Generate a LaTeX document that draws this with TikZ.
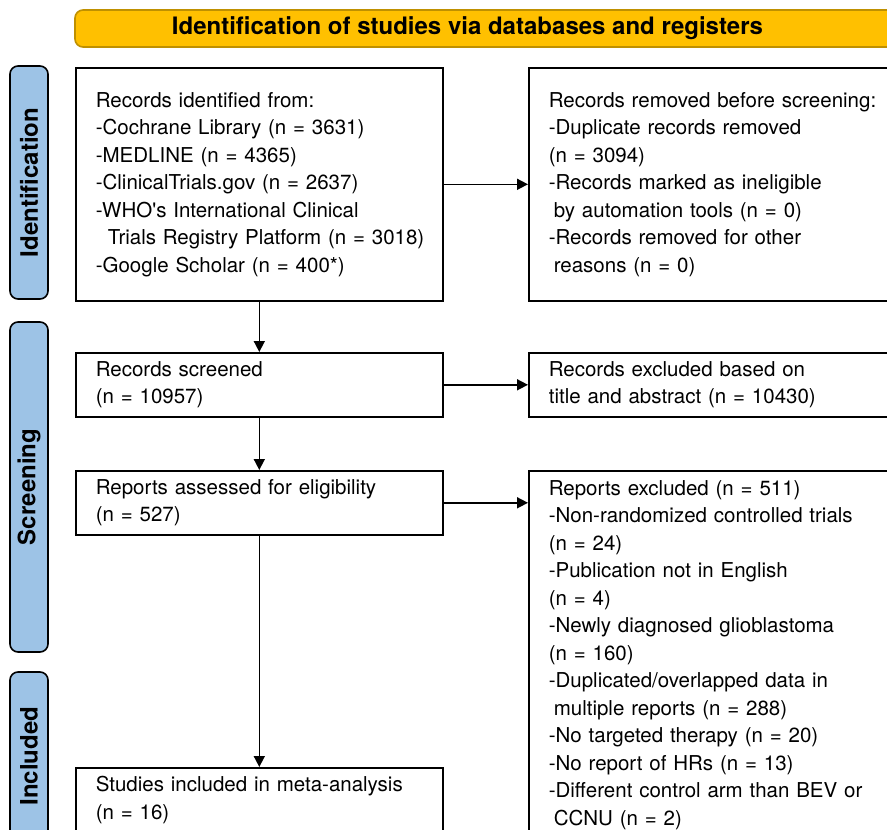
\documentclass[tikz,border=0pt]{standalone}
\usepackage{fontspec}
\setmainfont{TeX Gyre Heros}
\usetikzlibrary{arrows.meta}
\definecolor{headgold}{HTML}{FFC000}
\definecolor{headedge}{HTML}{BF9000}
\definecolor{sideblue}{HTML}{9DC3E6}
\tikzset{
  box/.style={draw,line width=1.6pt,anchor=north west,inner xsep=20pt,inner ysep=0pt,
    align=left,font=\fontsize{20.5}{27.5}\selectfont},
  sidebar/.style={draw,fill=sideblue,line width=1.6pt,rounded corners=8pt,rotate=90,
    minimum height=38pt,inner sep=0pt,font=\fontsize{24}{28}\selectfont\bfseries},
  arr/.style={-{Triangle[length=11pt,width=11pt]},line width=1.6pt}
}
\begin{document}
\begin{tikzpicture}[x=1pt,y=-1pt]
\useasboundingbox (0,0) rectangle (887,830);
\clip (0,0) rectangle (887,830);

% header
\draw[fill=headgold,draw=headedge,line width=1.6pt,rounded corners=8pt] (75,10) rectangle (910,47);
\node[font=\fontsize{24}{28}\selectfont\bfseries] (hdr) at (467.5,28.5) {Identification of studies via databases and registers};

% phase bars
\node[sidebar,minimum width=233pt] (barid) at (29,182.5) {Identification};
\node[sidebar,minimum width=330pt] (barscr) at (29,487) {Screening};
\node[sidebar,minimum width=168pt] (barinc) at (29,756) {Included};

% left column
\node[box,text width=327pt,minimum height=233pt] (ident) at (75,67)
  {Records identified from:\\
   -Cochrane Library (n = 3631)\\
   -MEDLINE (n = 4365)\\
   -ClinicalTrials.gov (n = 2637)\\
   -WHO\textquotesingle s International Clinical\\
   \mbox{\hspace*{12pt}Trials Registry Platform (n = 3018)}\\
   -Google Scholar (n = 400*)};
\node[box,text width=327pt,minimum height=64pt] (screened) at (75,352)
  {Records screened\\(n = 10957)};
\node[box,text width=327pt,minimum height=64pt] (assessed) at (75,470)
  {Reports assessed for eligibility\\(n = 527)};
\node[box,text width=327pt,minimum height=64pt] (included) at (75,767)
  {Studies included in meta-analysis\\(n = 16)};

% right column
\node[box,text width=360pt,minimum height=233pt] (removed) at (528,67)
  {Records removed before screening:\\
   -Duplicate records removed\\
   (n = 3094)\\
   -Records marked as ineligible\\
   \hspace*{5pt}by automation tools (n = 0)\\
   -Records removed for other\\
   \hspace*{5pt}reasons (n = 0)};
\node[box,text width=360pt,minimum height=64pt] (titleexcl) at (528,352)
  {Records excluded based on\\title and abstract (n = 10430)};
\node[box,text width=360pt,minimum height=368pt] (repexcl) at (528,470)
  {Reports excluded (n = 511)\\
   -Non-randomized controlled trials\\
   (n = 24)\\
   -Publication not in English\\
   (n = 4)\\
   -Newly diagnosed glioblastoma\\
   (n = 160)\\
   -Duplicated/overlapped data in\\
   \hspace*{5pt}multiple reports (n = 288)\\
   -No targeted therapy (n = 20)\\
   -No report of HRs (n = 13)\\
   -Different control arm than BEV or\\
   \hspace*{5pt}CCNU (n = 2)};

% arrows
\draw[arr] (ident.east) -- (removed.west);
\draw[arr] (ident.south) -- (screened.north);
\draw[arr] (screened.east) -- (titleexcl.west);
\draw[arr] (screened.south) -- (assessed.north);
\draw[arr] (assessed.east) -- (assessed.east -| repexcl.west);
\draw[arr] (assessed.south) -- (included.north);
\end{tikzpicture}
\end{document}
